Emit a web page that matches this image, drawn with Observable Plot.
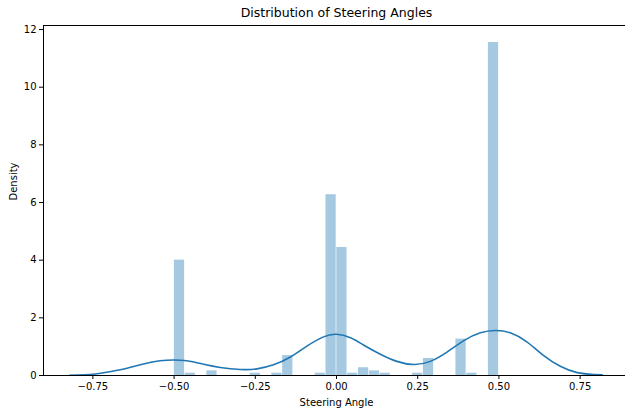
<!DOCTYPE html>
<html>
<head>
<meta charset="utf-8">
<script src="https://cdn.jsdelivr.net/npm/d3@7"></script>
<script src="https://cdn.jsdelivr.net/npm/@observablehq/plot@0.6"></script>
<style>
  html, body { margin: 0; padding: 0; background: #fff; overflow: hidden; }
  #chart svg { display: block; }
</style>
</head>
<body>
<div id="chart"></div>
<script>
// Histogram bins (left edge, density); bin width 1/30
const binLeft = [-0.5, -0.4667, -0.4, -0.2667, -0.2, -0.1667, -0.0667, -0.0333, 0, 0.0333, 0.0667, 0.1, 0.1333, 0.2333, 0.2667, 0.3667, 0.4, 0.4667];
const binDensity = [4.0, 0.08, 0.16, 0.08, 0.08, 0.69, 0.08, 6.27, 4.44, 0.08, 0.27, 0.16, 0.08, 0.08, 0.59, 1.26, 0.08, 11.55];
const binWidth = 1 / 30;

// KDE curve
const kdeX = [-0.822, -0.748, -0.697, -0.645, -0.594, -0.543, -0.502, -0.461, -0.409, -0.358, -0.296, -0.245, -0.194, -0.142, -0.091, -0.040, 0.0, 0.043, 0.083, 0.135, 0.186, 0.238, 0.289, 0.340, 0.392, 0.443, 0.489, 0.535, 0.587, 0.638, 0.689, 0.741, 0.792, 0.818];
const kdeY = [0.01, 0.045, 0.13, 0.25, 0.40, 0.51, 0.54, 0.51, 0.39, 0.28, 0.21, 0.23, 0.37, 0.64, 1.02, 1.34, 1.43, 1.31, 1.06, 0.74, 0.49, 0.38, 0.49, 0.81, 1.21, 1.48, 1.56, 1.48, 1.16, 0.69, 0.32, 0.10, 0.035, 0.02];

const xTicks = [-0.75, -0.5, -0.25, 0, 0.25, 0.5, 0.75];
const yTicks = [0, 2, 4, 6, 8, 10, 12];
const xDomain = [-0.902, 0.902];
const yDomain = [0, 12.14];

const bars = binLeft.map((x, i) => ({x1: x, x2: x + binWidth, y: binDensity[i]}));
const kde = kdeX.map((x, i) => ({x, y: kdeY[i]}));

const chart = Plot.plot({
  width: 625,
  height: 411,
  marginLeft: 43,
  marginRight: -4,
  marginTop: 25,
  marginBottom: 36,
  style: {fontFamily: "DejaVu Sans", fontSize: "10px", color: "#000", background: "#fff", overflow: "visible"},
  x: {domain: xDomain, label: null},
  y: {domain: yDomain, label: null},
  marks: [
    Plot.rectY(bars, {x1: "x1", x2: "x2", y: "y", fill: "#1f77b4", fillOpacity: 0.4, insetLeft: 0.3, insetRight: 0.3}),
    Plot.line(kde, {x: "x", y: "y", stroke: "#1f77b4", strokeWidth: 1.6, curve: "natural"}),
    Plot.ruleY([yDomain[0], yDomain[1]], {stroke: "#000", strokeWidth: 1}),
    Plot.ruleX([xDomain[0]], {stroke: "#000", strokeWidth: 1}),
    Plot.axisX({ticks: xTicks, tickFormat: d3.format(".2f"), tickSize: 4, tickPadding: 3, label: null, fontSize: 10}),
    Plot.axisY({ticks: yTicks, tickFormat: d3.format("d"), tickSize: 4, tickPadding: 3, label: null, fontSize: 10}),
    Plot.text(["Distribution of Steering Angles"], {frameAnchor: "top", dy: -9, fontSize: 12.5, lineAnchor: "bottom"}),
    Plot.text(["Steering Angle"], {frameAnchor: "bottom", dy: 30, fontSize: 10, lineAnchor: "bottom"}),
    Plot.text(["Density"], {frameAnchor: "left", dx: -30, rotate: -90, fontSize: 10})
  ]
});
document.getElementById("chart").appendChild(chart);
</script>
</body>
</html>
